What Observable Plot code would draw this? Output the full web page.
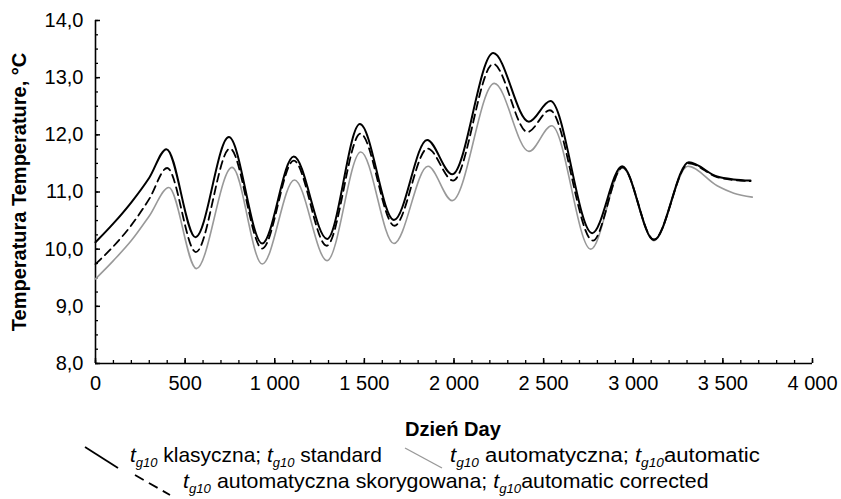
<!DOCTYPE html>
<html><head><meta charset="utf-8">
<script src="https://cdn.jsdelivr.net/npm/d3@7"></script>
<script src="https://cdn.jsdelivr.net/npm/@observablehq/plot@0.6"></script>
<style>
body{margin:0;background:#fff;}
#wrap{position:relative;width:841px;height:499px;overflow:hidden;font-family:"Liberation Sans",Arial,sans-serif;}
#overlay{position:absolute;left:0;top:0;}
</style></head>
<body><div id="wrap"><div id="chart"></div></div>
<script>
// ---- data ----
const daysKlasyczna = [0,100,200,300,396,558,744,930,1106,1292,1475,1665,1850,1990,2219,2418,2538,2771,2938,3115,3310,3468,3560,3654];
const tempKlasyczna = [10.12,10.45,10.82,11.25,11.75,10.21,11.96,10.10,11.62,10.18,12.19,10.51,11.91,11.31,13.43,12.23,12.59,10.28,11.45,10.16,11.52,11.27,11.22,11.20];

const daysSkorygowana = [0,100,200,300,400,560,750,930,1106,1290,1478,1668,1853,1995,2219,2410,2535,2775,2940,3115,3310,3468,3560,3654];
const tempSkorygowana = [9.74,10.05,10.42,10.88,11.42,9.95,11.76,10.01,11.55,10.06,12.02,10.41,11.76,11.20,13.24,12.05,12.43,10.15,11.43,10.17,11.50,11.26,11.21,11.19];

const daysAutomatyczna = [0,100,200,300,409,563,762,930,1110,1292,1480,1665,1855,1990,2225,2418,2545,2763,2940,3115,3305,3468,3561,3664];
const tempAutomatyczna = [9.48,9.80,10.15,10.58,11.08,9.66,11.43,9.74,11.21,9.80,11.70,10.10,11.45,10.85,12.90,11.71,12.16,10.00,11.42,10.15,11.45,11.11,10.98,10.91];

const xMajorTicks = [0,500,1000,1500,2000,2500,3000,3500,4000];
const xMinorTicks = d3.range(0, 4001, 100);
const yMajorTicks = [8,9,10,11,12,13,14];
const yMinorTicks = d3.range(8, 14.001, 0.25);

const yLabel = "Temperatura Temperature, °C";
const xLabel = "Dzień Day";

// ---- build ----
const zip = (ds, ts) => ds.map((d, i) => ({day: d, temp: ts[i]}));
const W = 841, H = 405, mL = 95, mR = 29, mT = 20, mB = 42;
const plotW = W - mL - mR, plotH = H - mT - mB;
const loc = d3.formatLocale({decimal: ",", thousands: "\u00a0", grouping: [3], currency: ["", ""]});
const fmtX = loc.format(",");

const chart = Plot.plot({
  width: W, height: H,
  marginLeft: mL, marginRight: mR, marginTop: mT, marginBottom: mB,
  style: {fontFamily: '"Liberation Sans", Arial, sans-serif', fontSize: "20px", color: "#000", background: "#fff"},
  x: {domain: [0, 4000], label: null},
  y: {domain: [8, 14], label: null},
  marks: [
    Plot.axisX({ticks: xMajorTicks, tickSize: 0, tickPadding: 12, tickFormat: fmtX, label: null}),
    Plot.axisY({ticks: yMajorTicks, tickSize: 0, tickPadding: 12, tickFormat: d => d.toFixed(1).replace(".", ","), label: null}),
    Plot.tickX(xMinorTicks, {x: d => d, insetTop: plotH - 3, stroke: "#000", strokeWidth: 1.3}),
    Plot.tickX(xMajorTicks, {x: d => d, insetTop: plotH - 5, stroke: "#000", strokeWidth: 1.5}),
    Plot.tickY(yMinorTicks, {y: d => d, insetRight: plotW - 3, stroke: "#000", strokeWidth: 1.3}),
    Plot.tickY(yMajorTicks, {y: d => d, insetRight: plotW - 5, stroke: "#000", strokeWidth: 1.5}),
    Plot.ruleX([0], {stroke: "#000", strokeWidth: 1.6}),
    Plot.ruleY([8], {stroke: "#000", strokeWidth: 1.6}),
    Plot.line(zip(daysAutomatyczna, tempAutomatyczna), {x: "day", y: "temp", curve: "monotone-x", stroke: "#999", strokeWidth: 1.6}),
    Plot.line(zip(daysSkorygowana, tempSkorygowana), {x: "day", y: "temp", curve: "monotone-x", stroke: "#000", strokeWidth: 1.8, strokeDasharray: "8,5"}),
    Plot.line(zip(daysKlasyczna, tempKlasyczna), {x: "day", y: "temp", curve: "monotone-x", stroke: "#000", strokeWidth: 2}),
    Plot.text([yLabel], {text: d => d, frameAnchor: "left", textAnchor: "middle", rotate: -90, dx: -76, fontWeight: "bold", fontSize: 20})
  ]
});
document.getElementById("chart").appendChild(chart);

// ---- x label and legend below the plot ----
const ns = "http://www.w3.org/2000/svg";
const ov = document.createElementNS(ns, "svg");
ov.setAttribute("width", W); ov.setAttribute("height", 499);
ov.setAttribute("id", "overlay");
ov.setAttribute("font-family", '"Liberation Sans", Arial, sans-serif');
const sub = `<tspan font-style="italic">t</tspan><tspan font-style="italic" font-size="13" dy="5">g10</tspan>`;
ov.innerHTML = `
<text data-x="405" data-y="435.5" data-w="96" font-weight="bold" font-size="21">${xLabel}</text>
<line x1="85" y1="447" x2="118" y2="468" stroke="#000" stroke-width="1.8"/>
<line x1="405" y1="448" x2="442" y2="468" stroke="#999" stroke-width="1.4"/>
<line x1="135" y1="475" x2="170" y2="495" stroke="#000" stroke-width="1.8" stroke-dasharray="10,6"/>
<text data-x="130" data-y="461.7" data-w="252" font-size="21">${sub}<tspan dy="-5"> klasyczna; </tspan>${sub}<tspan dy="-5"> standard</tspan></text>
<text data-x="450" data-y="461.7" data-w="310" font-size="21">${sub}<tspan dy="-5"> automatyczna; </tspan>${sub}<tspan dy="-5">automatic</tspan></text>
<text data-x="183" data-y="488.3" data-w="526" font-size="21">${sub}<tspan dy="-5"> automatyczna skorygowana; </tspan>${sub}<tspan dy="-5">automatic corrected</tspan></text>
`;
document.getElementById("wrap").appendChild(ov);
ov.querySelectorAll("text").forEach(t => {
  const x = +t.dataset.x, y = +t.dataset.y, w = +t.dataset.w;
  const natural = t.getComputedTextLength();
  const s = natural > 0 ? w / natural : 1;
  t.setAttribute("transform", `translate(${x},${y}) scale(${s},1)`);
});
</script>
</body></html>
